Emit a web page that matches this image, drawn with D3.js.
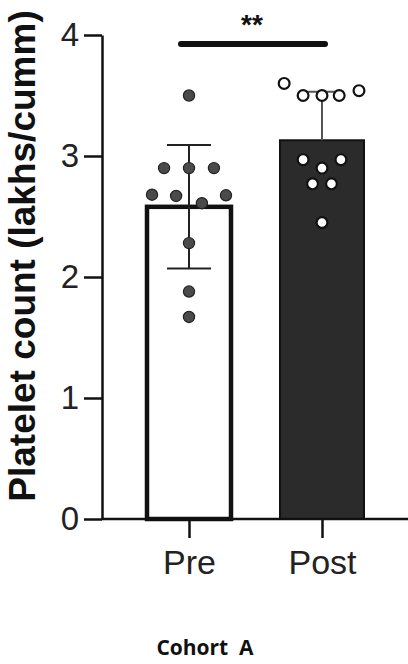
<!DOCTYPE html>
<html>
<head>
<meta charset="utf-8">
<script src="https://cdn.jsdelivr.net/npm/d3@7"></script>
<style>
  body { margin: 0; background: #fff; }
  svg { display: block; }
</style>
</head>
<body>
<svg id="chart"></svg>
<script>
// groups and values
const groups = ["Pre", "Post"];
const means = [2.58, 3.13];
const sds = [0.51, 0.40];
const prePoints = [3.50, 2.90, 2.90, 2.90, 2.68, 2.67, 2.61, 2.675, 2.28, 1.88, 1.67];
const postPoints = [3.60, 3.50, 3.50, 3.50, 3.54, 2.97, 2.97, 2.90, 2.77, 2.77, 2.45];
// horizontal jitter of each dot, in bar-width units
const preJitter = [0, -0.29, 0, 0.29, -0.43, -0.15, 0.15, 0.43, 0, 0, 0];
const postJitter = [-0.44, -0.22, 0, 0.2, 0.43, -0.22, 0.22, 0, -0.11, 0.11, 0];
const yTicks = [0, 1, 2, 3, 4];

const W = 408, H = 664;
const svg = d3.select("#chart").attr("width", W).attr("height", H);

const x = d3.scalePoint().domain(groups).range([189, 322]);
const y = d3.scaleLinear().domain([0, 4]).range([519, 35]);
const barW = 86;
const barFill = ["#fff", "#2b2b2b"];

// bars
svg.selectAll("rect.bar")
  .data(groups)
  .enter().append("rect")
  .attr("class", "bar")
  .attr("x", d => x(d) - barW / 2 + 1)
  .attr("y", (d, i) => y(means[i]))
  .attr("width", barW - 2)
  .attr("height", (d, i) => y(0) - y(means[i]))
  .attr("fill", (d, i) => barFill[i])
  .attr("stroke", "#111")
  .attr("stroke-width", (d, i) => i === 0 ? 4.5 : 2);

// error bars (lower whisker of the dark bar disappears into its fill)
groups.forEach((g, i) => {
  const cx = x(g);
  const mid = y(means[i]);
  const top = y(means[i] + sds[i]), bot = y(means[i] - sds[i]);
  const col = i === 0 ? "#222" : "#555";
  const lowCol = i === 0 ? "#222" : barFill[1];
  svg.append("line").attr("x1", cx).attr("x2", cx).attr("y1", top).attr("y2", mid)
    .attr("stroke", col).attr("stroke-width", 2);
  svg.append("line").attr("x1", cx).attr("x2", cx).attr("y1", mid).attr("y2", bot)
    .attr("stroke", lowCol).attr("stroke-width", 2);
  svg.append("line").attr("x1", cx - 22).attr("x2", cx + 22).attr("y1", top).attr("y2", top)
    .attr("stroke", col).attr("stroke-width", 2);
  svg.append("line").attr("x1", cx - 22).attr("x2", cx + 22).attr("y1", bot).attr("y2", bot)
    .attr("stroke", lowCol).attr("stroke-width", 2);
});

// dots
svg.selectAll("circle.pre")
  .data(prePoints)
  .enter().append("circle")
  .attr("class", "pre")
  .attr("cx", (d, i) => x("Pre") + preJitter[i] * barW)
  .attr("cy", d => y(d))
  .attr("r", 5.6)
  .attr("fill", "#4a4a4a")
  .attr("stroke", "#222")
  .attr("stroke-width", 1.2);

svg.selectAll("circle.post")
  .data(postPoints)
  .enter().append("circle")
  .attr("class", "post")
  .attr("cx", (d, i) => x("Post") + postJitter[i] * barW)
  .attr("cy", d => y(d))
  .attr("r", 5.4)
  .attr("fill", "#fff")
  .attr("stroke", "#111")
  .attr("stroke-width", 2.2);

// y axis
const yAxis = svg.append("g")
  .attr("transform", "translate(102,0)")
  .call(d3.axisLeft(y).tickValues(yTicks).tickFormat(d3.format("d"))
    .tickSize(18).tickPadding(5).tickSizeOuter(0));
yAxis.select(".domain").attr("stroke", "#111").attr("stroke-width", 2.5);
yAxis.selectAll(".tick line").attr("stroke", "#111").attr("stroke-width", 2.5);
yAxis.selectAll(".tick text")
  .attr("font-family", "Liberation Sans, Arial, sans-serif")
  .attr("font-size", 33)
  .attr("fill", "#222");

// x axis
const xAxis = svg.append("g")
  .attr("transform", "translate(0,519)")
  .call(d3.axisBottom(x).tickSize(19).tickPadding(12).tickSizeOuter(0));
xAxis.select(".domain").attr("d", "M101,0H408").attr("stroke", "#111").attr("stroke-width", 2.5);
xAxis.selectAll(".tick line").attr("stroke", "#111").attr("stroke-width", 2.5);
xAxis.selectAll(".tick text")
  .attr("font-family", "Liberation Sans, Arial, sans-serif")
  .attr("font-size", 34)
  .attr("fill", "#222");

// y title
svg.append("text")
  .attr("transform", "translate(35,256) rotate(-90)")
  .attr("text-anchor", "middle")
  .attr("font-family", "Liberation Sans, Arial, sans-serif")
  .attr("font-weight", "bold")
  .attr("font-size", 37)
  .attr("fill", "#111")
  .text("Platelet count (lakhs/cumm)");

// significance
svg.append("line")
  .attr("x1", 181).attr("x2", 325).attr("y1", 44).attr("y2", 44)
  .attr("stroke", "#111").attr("stroke-width", 6).attr("stroke-linecap", "round");
svg.append("text")
  .attr("x", 252).attr("y", 34)
  .attr("text-anchor", "middle")
  .attr("font-family", "Liberation Sans, Arial, sans-serif")
  .attr("font-weight", "bold")
  .attr("font-size", 28)
  .attr("fill", "#111")
  .text("**");

// caption
svg.append("text")
  .attr("x", 205).attr("y", 655)
  .attr("text-anchor", "middle")
  .attr("font-family", "Open Sans, sans-serif")
  .attr("font-weight", "bold")
  .attr("font-size", 21)
  .attr("fill", "#111")
  .style("white-space", "pre")
  .text("Cohort  A");
</script>
</body>
</html>
